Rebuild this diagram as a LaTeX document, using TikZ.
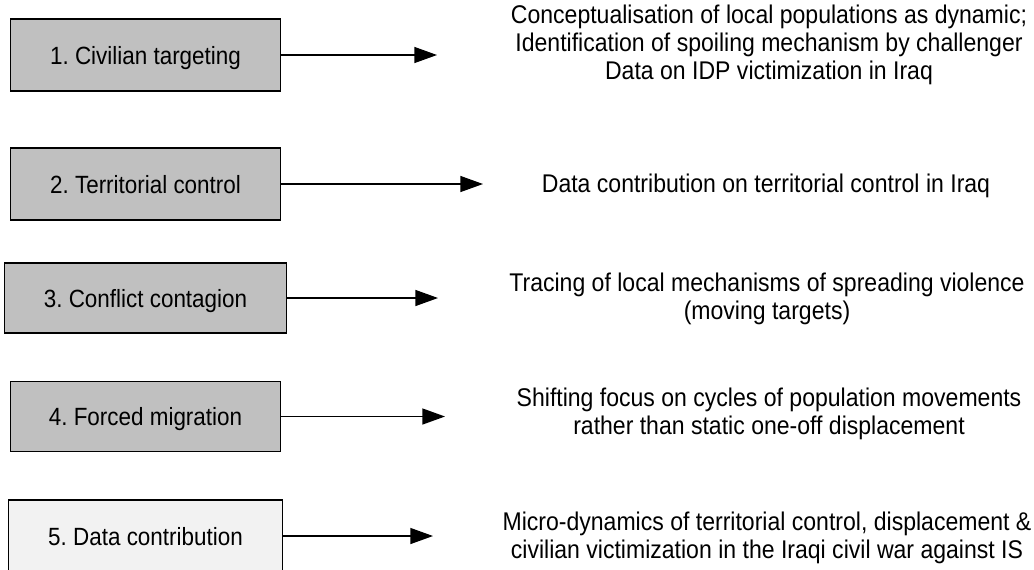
\documentclass[tikz,border=0pt]{standalone}
\usepackage{fontspec}
\setmainfont{Liberation Sans}[FakeStretch=0.9]
\usepackage{tikz}
\usetikzlibrary{arrows.meta}
\frenchspacing

\tikzset{
  stagebox/.style={draw=black, line width=0.8pt, fill=boxgray, inner sep=0pt, text depth=0pt,
    minimum width=202pt, minimum height=54pt, font=\fontsize{18.7}{22}\selectfont},
  outcome/.style={align=center, inner sep=0pt, font=\fontsize{19.2}{21}\selectfont},
  leadarrow/.style={line width=1pt, -{Triangle[length=17pt,width=12pt]}}
}
\definecolor{boxgray}{HTML}{C0C0C0}
\definecolor{boxlight}{HTML}{F2F2F2}

\begin{document}
\begin{tikzpicture}[x=0.75pt,y=0.75pt,yscale=-1,xscale=1]
\useasboundingbox (0,0) rectangle (1034,569);

%Shape: Rectangle [stage 1]
\node (civ) at (145.5,55) [stagebox] {1. Civilian targeting};
%Shape: Rectangle [stage 2]
\node (terr) at (145.5,184) [stagebox] {2. Territorial control};
%Shape: Rectangle [stage 3]
\node (cont) at (145.5,298) [stagebox, minimum width=212pt, minimum height=52.5pt] {3. Conflict contagion};
%Shape: Rectangle [stage 4]
\node (migr) at (145.5,416.5) [stagebox, minimum height=53pt] {4. Forced migration};
%Shape: Rectangle [stage 5]
\node (data) at (145.5,536) [stagebox, fill=boxlight, minimum width=206pt] {5. Data contribution};

%Arrow ends
\coordinate (civend) at (437,55);
\coordinate (terrend) at (483,184);
\coordinate (contend) at (438,298);
\coordinate (migrend) at (445,416.5);
\coordinate (dataend) at (433,536);

%Straight Lines
\draw [leadarrow] (civ.east) -- (civend);
\draw [leadarrow] (terr.east) -- (terrend);
\draw [leadarrow] (cont.east) -- (contend);
\draw [leadarrow] (migr.east) -- (migrend);
\draw [leadarrow] (data.east) -- (dataend);

% Text Node
\node (civtxt) at (769,45) [outcome] {Conceptualisation of local populations as dynamic;\\Identification of spoiling mechanism by challenger\\Data on IDP victimization in Iraq};
% Text Node
\node (terrtxt) at (766,186) [outcome] {Data contribution on territorial control in Iraq};
% Text Node
\node (conttxt) at (767,299) [outcome] {Tracing of local mechanisms of spreading violence\\(moving targets)};
% Text Node
\node (migrtxt) at (769,414) [outcome] {Shifting focus on cycles of population movements\\rather than static one-off displacement};
% Text Node
\node (datatxt) at (767,537.5) [outcome] {Micro-dynamics of territorial control, displacement \&\\civilian victimization in the Iraqi civil war against IS};

\end{tikzpicture}
\end{document}
